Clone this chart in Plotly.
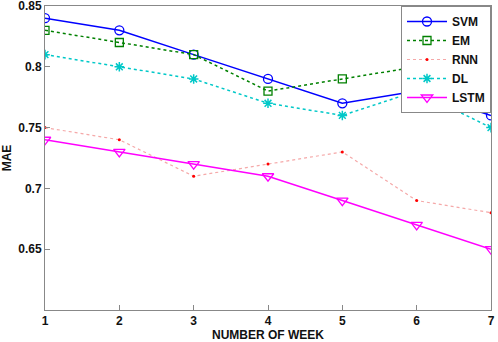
import plotly.graph_objects as go

weeks = [1, 2, 3, 4, 5, 6, 7]
svm = [0.84, 0.83, 0.81, 0.79, 0.77, 0.78, 0.76]
em = [0.83, 0.82, 0.81, 0.78, 0.79, 0.80, 0.77]
rnn = [0.75, 0.74, 0.71, 0.72, 0.73, 0.69, 0.68]
dl = [0.81, 0.80, 0.79, 0.77, 0.76, 0.78, 0.75]
lstm = [0.74, 0.73, 0.72, 0.71, 0.69, 0.67, 0.65]
y_ticks = [0.65, 0.7, 0.75, 0.8, 0.85]
y_tick_labels = ["0.65", "0.7", "0.75", "0.8", "0.85"]

fig = go.Figure()
fig.add_trace(go.Scatter(x=weeks, y=svm, name="SVM", mode="lines+markers",
                         line=dict(color="#0000ff", width=1.5),
                         marker=dict(symbol="circle-open", size=9, color="#0000ff", line=dict(width=1.3))))
fig.add_trace(go.Scatter(x=weeks, y=em, name="EM", mode="lines+markers",
                         line=dict(color="#008000", width=1.5, dash="dot"),
                         marker=dict(symbol="square-open", size=8, color="#008000", line=dict(width=1.3))))
fig.add_trace(go.Scatter(x=weeks, y=rnn, name="RNN", mode="lines+markers",
                         line=dict(color="#f5a8a8", width=1.2, dash="dot"),
                         marker=dict(symbol="circle", size=3, color="#ff0000")))
fig.add_trace(go.Scatter(x=weeks, y=dl, name="DL", mode="lines+markers",
                         line=dict(color="#00c8c8", width=1.5, dash="dot"),
                         marker=dict(symbol="asterisk-open", size=8, color="#00c8c8", line=dict(width=1.5, color="#00c8c8"))))
fig.add_trace(go.Scatter(x=weeks, y=lstm, name="LSTM", mode="lines+markers",
                         line=dict(color="#ff00ff", width=1.5),
                         marker=dict(symbol="triangle-down-open", size=10, color="#ff00ff", line=dict(width=1.3))))

axis_font = dict(family="Liberation Sans, Arial", size=12, color="#111111")
fig.update_layout(
    width=498, height=342,
    margin=dict(l=45, r=7, t=6, b=32),
    paper_bgcolor="white", plot_bgcolor="white",
    font=dict(family="Liberation Sans, Arial", size=12, color="#111111"),
    showlegend=True,
    legend=dict(x=1, y=1, xanchor="right", yanchor="top",
                bgcolor="white", bordercolor="#888888", borderwidth=1,
                font=dict(family="Liberation Sans, Arial", size=12, color="#111111", weight="bold"),
                tracegroupgap=0, itemwidth=40),
    xaxis=dict(range=[1, 7], tickvals=weeks, ticktext=[f"<b>{w}</b>" for w in weeks],
               ticks="inside", ticklen=5, tickcolor="#888888",
               showline=True, linecolor="#888888", linewidth=1, mirror=True,
               showgrid=False, zeroline=False, tickfont=axis_font,
               automargin=False, ticklabeloverflow="allow"),
    yaxis=dict(range=[0.6, 0.85], tickvals=y_ticks, ticktext=[f"<b>{t}</b>" for t in y_tick_labels],
               ticks="inside", ticklen=5, tickcolor="#888888",
               showline=True, linecolor="#888888", linewidth=1, mirror=True,
               showgrid=False, zeroline=False, tickfont=axis_font,
               automargin=False, ticklabeloverflow="allow",
               title=dict(text="<b>MAE</b>", font=axis_font, standoff=6)),
    annotations=[dict(text="<b>NUMBER OF WEEK</b>", xref="paper", yref="paper",
                      x=0.5, y=0, xanchor="center", yanchor="top", yshift=-16,
                      showarrow=False, font=axis_font)],
)
fig.write_html("out.html", config={"displayModeBar": False},
               post_script="document.body.style.margin='0';document.body.style.padding='0';")
